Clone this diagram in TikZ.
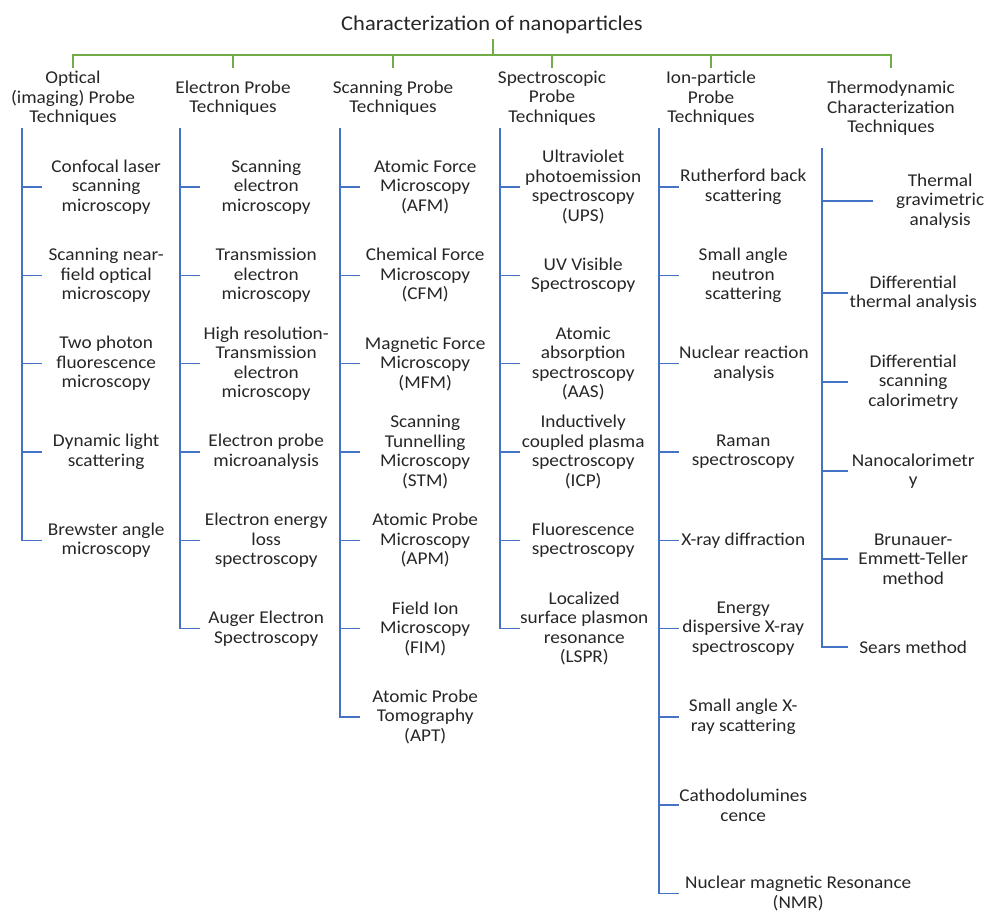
\documentclass[tikz,border=0pt]{standalone}
\usepackage{fontspec}
\setmainfont{Carlito}[FakeStretch=1.07]
\definecolor{treegreen}{HTML}{70AD47}
\definecolor{treeblue}{HTML}{4472C4}
\definecolor{txt}{HTML}{262626}

\begin{document}
\begin{tikzpicture}[x=1pt, y=-1pt,
  grn/.style={draw=treegreen, line width=2pt},
  blu/.style={draw=treeblue, line width=1.4pt},
  hdr/.style={anchor=north, inner sep=0pt, minimum height=60pt, align=center,
    font=\fontsize{18}{19.5}\selectfont, text=txt},
  itm/.style={anchor=west, inner xsep=0pt, inner ysep=0pt, minimum width=#1,
    align=center, font=\fontsize{18}{19.5}\selectfont, text=txt},
  itm/.default=128pt]
\useasboundingbox (0,0) rectangle (984,911);

\node[font=\fontsize{21}{24}\selectfont, text=txt, inner ysep=5pt] (root) at (492,25) {Characterization of nanoparticles};
\coordinate (bus) at (493,55);

% groups
\node[hdr] (opt) at (73,68) {Optical\\(imaging) Probe\\Techniques};
\node[hdr] (el) at (233,68) {Electron Probe\\Techniques};
\node[hdr] (scn) at (393,68) {Scanning Probe\\Techniques};
\node[hdr] (spc) at (552,68) {Spectroscopic\\Probe\\Techniques};
\node[hdr] (ion) at (711,68) {Ion-particle\\Probe\\Techniques};
\node[hdr, minimum height=80pt] (thm) at (891,68) {Thermodynamic\\Characterization\\Techniques};

\draw[grn] (root.south -| bus) -- (bus);
\draw[grn] (bus) -| (opt.north);
\draw[grn] (bus) -| (el.north);
\draw[grn] (bus) -| (scn.north);
\draw[grn] (bus) -| (spc.north);
\draw[grn] (bus) -| (ion.north);
\draw[grn] (bus) -| (thm.north);

\coordinate (sp1) at (22,128);
\coordinate (sp2) at (180,128);
\coordinate (sp3) at (340,128);
\coordinate (sp4) at (500,128);
\coordinate (sp5) at (659,128);
\coordinate (sp6) at (822,148);

% optical
\node[itm] (opt1) at (42,187) {Confocal laser\\scanning\\microscopy};
\node[itm] (opt2) at (42,275.3) {Scanning near-\\field optical\\microscopy};
\node[itm] (opt3) at (42,363.6) {Two photon\\fluorescence\\microscopy};
\node[itm] (opt4) at (42,451.9) {Dynamic light\\scattering};
\node[itm] (opt5) at (42,540.2) {Brewster angle\\microscopy};

% electron
\node[itm=132pt] (el1) at (200,187) {Scanning\\electron\\microscopy};
\node[itm=132pt] (el2) at (200,275.3) {Transmission\\electron\\microscopy};
\node[itm=132pt] (el3) at (200,363.6) {High resolution-\\Transmission\\electron\\microscopy};
\node[itm=132pt] (el4) at (200,451.9) {Electron probe\\microanalysis};
\node[itm=132pt] (el5) at (200,540.2) {Electron energy\\loss\\spectroscopy};
\node[itm=132pt] (el6) at (200,628.5) {Auger Electron\\Spectroscopy};

% scanning
\node[itm=130pt] (scn1) at (360,187) {Atomic Force\\Microscopy\\(AFM)};
\node[itm=130pt] (scn2) at (360,275.3) {Chemical Force\\Microscopy\\(CFM)};
\node[itm=130pt] (scn3) at (360,363.6) {Magnetic Force\\Microscopy\\(MFM)};
\node[itm=130pt] (scn4) at (360,451.9) {Scanning\\Tunnelling\\Microscopy\\(STM)};
\node[itm=130pt] (scn5) at (360,540.2) {Atomic Probe\\Microscopy\\(APM)};
\node[itm=130pt] (scn6) at (360,628.5) {Field Ion\\Microscopy\\(FIM)};
\node[itm=130pt] (scn7) at (360,716.8) {Atomic Probe\\Tomography\\(APT)};

% spectroscopic
\node[itm=126pt] (spc1) at (520,187) {Ultraviolet\\photoemission\\spectroscopy\\(UPS)};
\node[itm=126pt] (spc2) at (520,275.3) {UV Visible\\Spectroscopy};
\node[itm=126pt] (spc3) at (520,363.6) {Atomic\\absorption\\spectroscopy\\(AAS)};
\node[itm=126pt] (spc4) at (520,451.9) {Inductively\\coupled plasma\\spectroscopy\\(ICP)};
\node[itm=126pt] (spc5) at (520,540.2) {Fluorescence\\spectroscopy};
\node[itm=126pt] (spc6) at (520,628.5) {Localized\\surface plasmon\\resonance\\(LSPR)};

% ion-particle
\node[itm] (ion1) at (679,187) {Rutherford back\\scattering};
\node[itm] (ion2) at (679,275.3) {Small angle\\neutron\\scattering};
\node[itm] (ion3) at (679,363.6) {Nuclear reaction\\analysis};
\node[itm] (ion4) at (679,451.9) {Raman\\spectroscopy};
\node[itm] (ion5) at (679,540.2) {X-ray diffraction};
\node[itm] (ion6) at (679,628.5) {Energy\\dispersive X-ray\\spectroscopy};
\node[itm] (ion7) at (679,716.8) {Small angle X-\\ray scattering};
\node[itm] (ion8) at (679,805.1) {Cathodolumines\\cence};
\node[itm=238pt] (ion9) at (679,893.4) {Nuclear magnetic Resonance\\(NMR)};

% thermodynamic
\node[itm=134pt] (thm1) at (873,201) {Thermal\\gravimetric\\analysis};
\node[itm=130pt] (thm2) at (848,293) {Differential\\thermal analysis};
\node[itm=130pt] (thm3) at (848,382) {Differential\\scanning\\calorimetry};
\node[itm=130pt] (thm4) at (848,471) {Nanocalorimetr\\y};
\node[itm=130pt] (thm5) at (848,559) {Brunauer-\\Emmett-Teller\\method};
\node[itm=130pt] (thm6) at (848,647) {Sears method};

\draw[blu] (sp1) |- (opt1.west) (sp1) |- (opt2.west) (sp1) |- (opt3.west)
  (sp1) |- (opt4.west) (sp1) |- (opt5.west);
\draw[blu] (sp2) |- (el1.west) (sp2) |- (el2.west) (sp2) |- (el3.west)
  (sp2) |- (el4.west) (sp2) |- (el5.west) (sp2) |- (el6.west);
\draw[blu] (sp3) |- (scn1.west) (sp3) |- (scn2.west) (sp3) |- (scn3.west)
  (sp3) |- (scn4.west) (sp3) |- (scn5.west) (sp3) |- (scn6.west) (sp3) |- (scn7.west);
\draw[blu] (sp4) |- (spc1.west) (sp4) |- (spc2.west) (sp4) |- (spc3.west)
  (sp4) |- (spc4.west) (sp4) |- (spc5.west) (sp4) |- (spc6.west);
\draw[blu] (sp5) |- (ion1.west) (sp5) |- (ion2.west) (sp5) |- (ion3.west)
  (sp5) |- (ion4.west) (sp5) |- (ion5.west) (sp5) |- (ion6.west)
  (sp5) |- (ion7.west) (sp5) |- (ion8.west) (sp5) |- (ion9.west);
\draw[blu] (sp6) |- (thm1.west) (sp6) |- (thm2.west) (sp6) |- (thm3.west)
  (sp6) |- (thm4.west) (sp6) |- (thm5.west) (sp6) |- (thm6.west);
\end{tikzpicture}
\end{document}
